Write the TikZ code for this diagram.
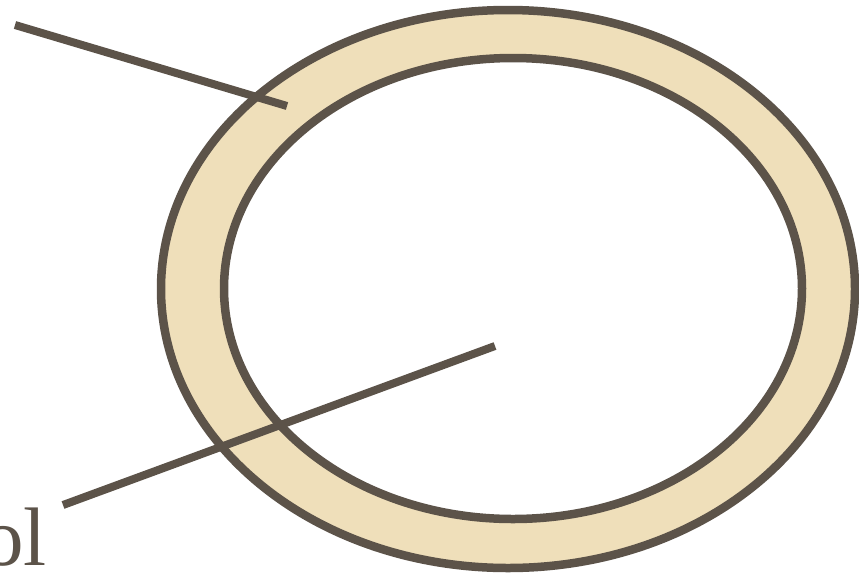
\documentclass[tikz,border=0pt]{standalone}
\usepackage{fontspec}
\setmainfont{Liberation Serif}
\begin{document}
\begin{tikzpicture}[x=1pt,y=-1pt,
  ink/.style={draw=inkc, line width=8.5pt},
  leader/.style={draw=inkc, line width=8pt, line cap=butt}]
\definecolor{inkc}{HTML}{5C5349}
\definecolor{ringc}{HTML}{EFDFBA}
\useasboundingbox (0,0) rectangle (859,574);
\coordinate (oc) at (508,289);
\coordinate (ic) at (513,288.5);
\fill[ringc, even odd rule] (oc) ellipse [x radius=347pt, y radius=279pt]
  (ic) ellipse [x radius=289pt, y radius=230.5pt];
\draw[ink] (oc) ellipse [x radius=347pt, y radius=279pt];
\draw[ink] (ic) ellipse [x radius=289pt, y radius=230.5pt];
\node[anchor=base east, inner sep=0pt, text=inkc, font=\fontsize{83}{83}\selectfont] (lbl) at (47,565) {ol};
\coordinate (t1) at (15,25);
\coordinate (t2) at (287,106);
\coordinate (b1) at (63,505);
\coordinate (b2) at (495,346);
\draw[leader] (t1) -- (t2);
\draw[leader] (b1) -- (b2);
\end{tikzpicture}
\end{document}
